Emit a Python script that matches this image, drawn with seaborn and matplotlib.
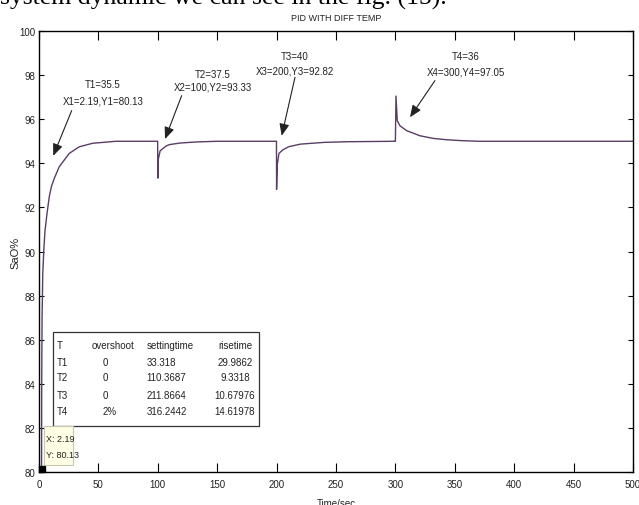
import numpy as np
import pandas as pd
import matplotlib
matplotlib.use("Agg")
import matplotlib.pyplot as plt
import seaborn as sns
from matplotlib.patches import Rectangle

# ---------------- data ----------------
seg1_t = [2.19, 2.3, 2.6, 3.2, 4.0, 5.0, 6.7, 8.7, 10.5, 12.9, 17.1, 25.5, 33.9, 45.2, 64.8, 99.9]
seg1_y = [80.13, 84.0, 87.0, 89.0, 90.0, 90.9, 91.7, 92.5, 92.95, 93.32, 93.85, 94.45, 94.75, 94.91, 95.0, 95.0]

seg2_t = [100.0, 100.5, 102.0, 105.0, 107.5, 110.0, 118.7, 132.7, 150.0, 199.9]
seg2_y = [93.33, 94.2, 94.57, 94.7, 94.8, 94.85, 94.92, 94.97, 95.0, 95.0]

seg3_t = [200.0, 200.5, 202.0, 205.0, 210.0, 220.0, 240.0, 260.0, 299.9]
seg3_y = [92.82, 93.9, 94.45, 94.6, 94.75, 94.87, 94.95, 94.98, 95.0]

seg4_t = [300.0, 300.5, 301.6, 303.9, 309.5, 320.7, 331.8, 343.0, 355.0, 370.0, 500.0]
seg4_y = [95.0, 97.05, 95.93, 95.7, 95.48, 95.25, 95.13, 95.07, 95.03, 95.0, 95.0]

x_ticks = [0, 50, 100, 150, 200, 250, 300, 350, 400, 450, 500]
y_ticks = [80, 82, 84, 86, 88, 90, 92, 94, 96, 98, 100]

annot_lines1 = ["T1=35.5", "T2=37.5", "T3=40", "T4=36"]
annot_lines2 = ["X1=2.19,Y1=80.13", "X2=100,Y2=93.33", "X3=200,Y3=92.82", "X4=300,Y4=97.05"]

table_header = ["T", "overshoot", "settingtime", "risetime"]
table_names = ["T1", "T2", "T3", "T4"]
table_overshoot = ["0", "0", "0", "2%"]
table_setting = ["33.318", "110.3687", "211.8664", "316.2442"]
table_rise = ["29.9862", "9.3318", "10.67976", "14.61978"]

tip_x = 2.19
tip_y = 80.13

# ---------------- build ----------------
t_all = seg1_t + seg2_t + seg3_t + seg4_t
y_all = seg1_y + seg2_y + seg3_y + seg4_y
df = pd.DataFrame({"time": t_all, "sao2": y_all})

sns.set_theme(style="white")
FONT = ["Liberation Sans", "DejaVu Sans"]
plt.rcParams["font.family"] = FONT
plt.rcParams["axes.edgecolor"] = "black"
plt.rcParams["axes.linewidth"] = 1.0

TXT = "#222222"
FS = 7

fig = plt.figure(figsize=(6.39, 5.06), dpi=100)
ax = fig.add_axes([0.0610, 0.0652, 0.9296, 0.8715])

sns.lineplot(data=df, x="time", y="sao2", estimator=None, sort=False,
             color="#5a3d66", lw=1.0, ax=ax)

ax.set_xlim(0, 500)
ax.set_ylim(80, 100)
ax.set_xticks(x_ticks)
ax.set_yticks(y_ticks)
ax.set_xticklabels([str(v) for v in x_ticks], fontsize=FS)
ax.set_yticklabels([str(v) for v in y_ticks], fontsize=FS)
ax.tick_params(axis="x", direction="in", top=True, bottom=True, length=6.5,
               width=0.8, pad=5, colors="black", labelcolor=TXT)
ax.tick_params(axis="y", direction="in", left=True, right=True, length=3.6,
               width=0.8, pad=2.5, colors="black", labelcolor=TXT)
for s in ax.spines.values():
    s.set_visible(True)
    s.set_color("black")
    s.set_linewidth(1.0)

ax.set_title("PID WITH DIFF TEMP", fontsize=6.5, pad=8, color=TXT)
ax.set_xlabel("Time/sec", fontsize=FS, color=TXT)
ax.xaxis.set_label_coords(0.5, -0.058)
ax.set_ylabel("SaO%", fontsize=8, color=TXT)
ax.yaxis.set_label_coords(-0.031, 0.5)

# annotations: text positions and arrow tail/head (data coordinates)
txt_x = [53.9, 146.5, 215.5, 359.4]
txt_y1 = [97.6, 98.05, 98.87, 98.87]
txt_y2 = [96.83, 97.5, 98.2, 98.15]
arr_tail = [(27.5, 96.39), (120.1, 97.07), (215.5, 97.9), (333.3, 97.75)]
arr_head = [(12.0, 94.34), (106.1, 95.1), (204.3, 95.25), (312.3, 96.09)]
for i in range(4):
    ax.text(txt_x[i], txt_y1[i], annot_lines1[i], ha="center", va="center",
            fontsize=FS, color=TXT)
    ax.text(txt_x[i], txt_y2[i], annot_lines2[i], ha="center", va="center",
            fontsize=FS, color=TXT)
    ax.annotate("", xy=arr_head[i], xytext=arr_tail[i],
                arrowprops=dict(arrowstyle="-|>,head_length=0.6,head_width=0.25",
                                color=TXT, lw=0.8,
                                mutation_scale=12, shrinkA=0, shrinkB=0))

# table box
ax.add_patch(Rectangle((11.5, 82.07), 173.9, 4.27, facecolor="white",
                       edgecolor="#333333", lw=0.9, zorder=3))
row_y = [85.0, 84.29, 83.49, 82.78]
head_y = 85.76
col_x = [14.9, 44.3, 90.6, 165.0]
TFS = 7
ax.text(col_x[0], head_y, table_header[0], ha="left", va="center", fontsize=TFS, zorder=4, color=TXT)
ax.text(col_x[1], head_y, table_header[1], ha="left", va="center", fontsize=TFS, zorder=4, color=TXT)
ax.text(col_x[2], head_y, table_header[2], ha="left", va="center", fontsize=TFS, zorder=4, color=TXT)
ax.text(col_x[3], head_y, table_header[3], ha="center", va="center", fontsize=TFS, zorder=4, color=TXT)
for i in range(4):
    ax.text(col_x[0], row_y[i], table_names[i], ha="left", va="center", fontsize=TFS, zorder=4, color=TXT)
    ax.text(53.9, row_y[i], table_overshoot[i], ha="left", va="center", fontsize=TFS, zorder=4, color=TXT)
    ax.text(col_x[2], row_y[i], table_setting[i], ha="left", va="center", fontsize=TFS, zorder=4, color=TXT)
    ax.text(col_x[3], row_y[i], table_rise[i], ha="center", va="center", fontsize=TFS, zorder=4, color=TXT)

# data tip
ax.add_patch(Rectangle((4.5, 80.32), 24.4, 1.75, facecolor="#ffffe6",
                       edgecolor="#c8c8b0", lw=0.8, zorder=3))
ax.text(5.6, 81.5, f"X: {tip_x}", ha="left", va="center", fontsize=6.5, zorder=4, color=TXT)
ax.text(5.6, 80.8, f"Y: {tip_y}", ha="left", va="center", fontsize=6.5, zorder=4, color=TXT)
ax.plot([tip_x], [tip_y], marker="s", color="black", ms=5, clip_on=False, zorder=5)

# cropped document text at the very top
fig.text(0.0, 1 - 5 / 506, "system dynamic we can see in the fig. (15).",
         ha="left", va="baseline", fontsize=18.5,
         family=["Liberation Serif", "DejaVu Serif"], color="black")

fig.savefig("out.png", dpi=100, facecolor="white")
